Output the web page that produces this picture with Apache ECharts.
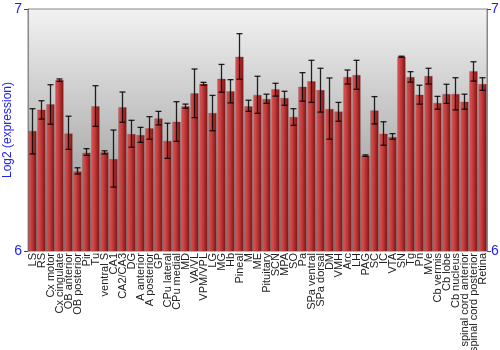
<!DOCTYPE html>
<html><head><meta charset="utf-8">
<script src="https://cdn.jsdelivr.net/npm/echarts@6/dist/echarts.min.js"></script>
<style>html,body{margin:0;padding:0;background:#fff}#c{width:500px;height:350px}</style>
</head><body><div id="c"></div>
<script>
const categories = ["LS","RS","Cx motor","Cx cingulate","OB anterior","OB posterior","Pir","Tu","ventral S","CA1","CA2/CA3","DG","A anterior","A posterior","GP","CPu lateral","CPu medial","MD","VA/VL","VPM/VPL","LG","MG","Hb","Pineal","M","ME","Pituitary","SCN","MPA","SO","Pa","SPa ventral","SPa dorsal","DM","VMH","Arc","LH","PAG","SC","IC","VTA","SN","Tg","Pn","MVe","Cb vermis","Cb lobe","Cb nucleus","spinal cord anterior","spinal cord posterior","Retina"];
const values = [6.496,6.584,6.606,6.707,6.486,6.329,6.406,6.598,6.408,6.380,6.594,6.483,6.479,6.507,6.548,6.455,6.534,6.598,6.652,6.691,6.570,6.712,6.660,6.803,6.598,6.645,6.628,6.668,6.632,6.554,6.679,6.701,6.665,6.587,6.576,6.719,6.727,6.394,6.581,6.485,6.471,6.803,6.719,6.646,6.723,6.612,6.649,6.649,6.617,6.743,6.690];
const errLow = [6.401,6.545,6.524,6.701,6.420,6.318,6.395,6.515,6.401,6.264,6.532,6.429,6.449,6.462,6.521,6.383,6.453,6.590,6.551,6.685,6.497,6.656,6.612,6.710,6.577,6.569,6.610,6.640,6.602,6.519,6.619,6.614,6.574,6.462,6.536,6.690,6.668,6.391,6.525,6.437,6.462,6.801,6.698,6.607,6.690,6.586,6.610,6.583,6.586,6.702,6.664];
const errHigh = [6.588,6.621,6.687,6.711,6.557,6.344,6.423,6.683,6.414,6.500,6.657,6.540,6.511,6.555,6.577,6.528,6.617,6.607,6.752,6.697,6.643,6.771,6.708,6.898,6.623,6.722,6.648,6.693,6.660,6.588,6.737,6.788,6.755,6.715,6.614,6.748,6.788,6.397,6.638,6.534,6.485,6.805,6.741,6.685,6.755,6.639,6.689,6.716,6.648,6.782,6.716];
const yTicks = [6, 7];

const chart = echarts.init(document.getElementById('c'), null, {renderer:'canvas'});
const blue = '#2222ee';
chart.setOption({
  animation:false,
  grid:{left:28,right:13,top:9,bottom:99,containLabel:false,outerBoundsMode:'none',show:true,borderColor:'#888',borderWidth:1,
    backgroundColor:new echarts.graphic.LinearGradient(0,0,0,1,[{offset:0,color:'#f2f2f2'},{offset:0.7,color:'#a8a8a8'},{offset:1,color:'#909090'}])},
  xAxis:{type:'category',data:categories,
    axisLine:{show:false},axisTick:{show:false},
    axisLabel:{interval:0,rotate:90,fontFamily:'Liberation Sans, Arial',fontSize:11,color:'#222',margin:2}},
  yAxis:[
    {type:'value',min:yTicks[0],max:yTicks[1],interval:1,position:'left',
     name:'Log2 (expression)',nameLocation:'middle',nameGap:14,nameRotate:90,nameMoveOverlap:false,
     nameTextStyle:{color:blue,fontFamily:'Liberation Sans, Arial',fontSize:12},
     axisLine:{show:true,lineStyle:{color:'#888'}},axisTick:{show:true,length:4,lineStyle:{color:'#444'}},
     splitLine:{show:false},
     axisLabel:{color:blue,fontFamily:'Liberation Sans, Arial',fontSize:14,margin:6}},
    {type:'value',min:yTicks[0],max:yTicks[1],interval:1,position:'right',
     axisLine:{show:true,lineStyle:{color:'#888'}},axisTick:{show:true,length:4,lineStyle:{color:'#444'}},
     splitLine:{show:false},
     axisLabel:{color:blue,fontFamily:'Liberation Sans, Arial',fontSize:14,margin:4}}
  ],
  series:[
    {type:'bar',data:values,barCategoryGap:'10%',
     itemStyle:{color:new echarts.graphic.LinearGradient(0,0,1,0,[
       {offset:0,color:'#a82a2a'},{offset:0.12,color:'#d65050'},{offset:0.45,color:'#c03838'},{offset:1,color:'#7a1212'}]),
       borderColor:'rgba(120,60,60,0.5)',borderWidth:0.5}},
    {type:'custom',
     data:categories.map((c,i)=>[i,errLow[i],errHigh[i]]),
     renderItem:function(params,api){
       const i=api.value(0);
       const lo=api.coord([i,api.value(1)]);
       const hi=api.coord([i,api.value(2)]);
       const hw=3;
       const st={stroke:'rgba(0,0,0,0.85)',lineWidth:1.3};
       return {type:'group',children:[
         {type:'line',shape:{x1:lo[0],y1:lo[1],x2:hi[0],y2:hi[1]},style:st},
         {type:'line',shape:{x1:lo[0]-hw,y1:lo[1],x2:lo[0]+hw,y2:lo[1]},style:st},
         {type:'line',shape:{x1:hi[0]-hw,y1:hi[1],x2:hi[0]+hw,y2:hi[1]},style:st}
       ]};
     },z:10}
  ]
});
</script></body></html>
